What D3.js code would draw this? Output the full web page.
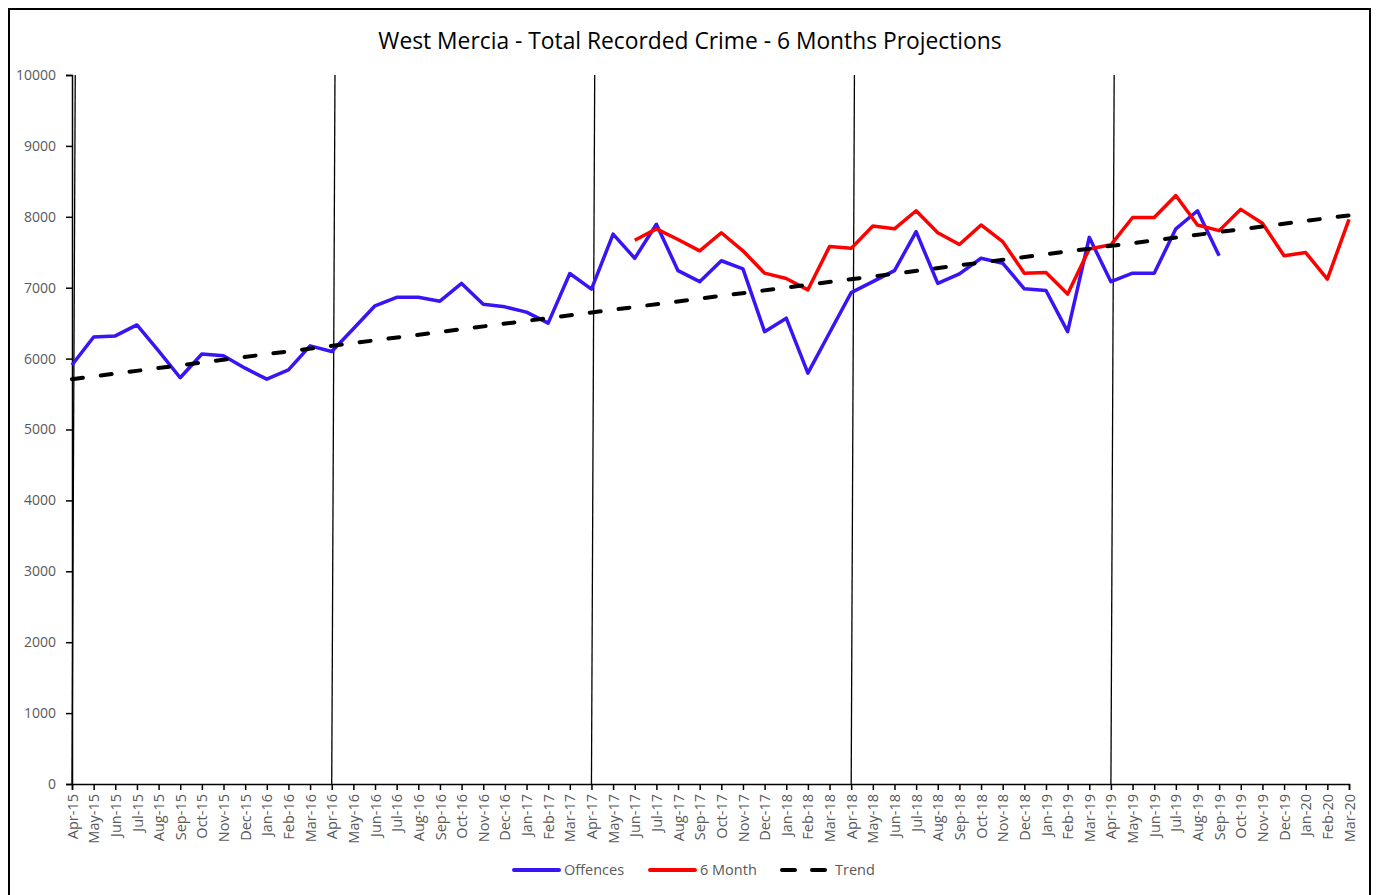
<!DOCTYPE html>
<html>
<head>
<meta charset="utf-8">
<script src="https://cdn.jsdelivr.net/npm/d3@7"></script>
<style>
  body { margin: 0; background: #fff; }
  svg text { font-family: "Open Sans", Carlito, Calibri, sans-serif; }
</style>
</head>
<body>
<div id="chart"></div>
<script>
var months = ['Apr-15','May-15','Jun-15','Jul-15','Aug-15','Sep-15','Oct-15','Nov-15','Dec-15','Jan-16','Feb-16','Mar-16',
              'Apr-16','May-16','Jun-16','Jul-16','Aug-16','Sep-16','Oct-16','Nov-16','Dec-16','Jan-17','Feb-17','Mar-17',
              'Apr-17','May-17','Jun-17','Jul-17','Aug-17','Sep-17','Oct-17','Nov-17','Dec-17','Jan-18','Feb-18','Mar-18',
              'Apr-18','May-18','Jun-18','Jul-18','Aug-18','Sep-18','Oct-18','Nov-18','Dec-18','Jan-19','Feb-19','Mar-19',
              'Apr-19','May-19','Jun-19','Jul-19','Aug-19','Sep-19','Oct-19','Nov-19','Dec-19','Jan-20','Feb-20','Mar-20'];

// Apr-15 .. Sep-19
var offences = [5910, 6305, 6320, 6475, 6110, 5730, 6065, 6040, 5865, 5710, 5840, 6180,
                6100, 6420, 6745, 6865, 6865, 6810, 7060, 6765, 6730, 6655, 6500, 7200,
                6980, 7755, 7415, 7895, 7240, 7085, 7380, 7265, 6380, 6570, 5795, 6365,
                6930, 7085, 7240, 7790, 7060, 7195, 7415, 7345, 6985, 6960, 6380, 7710,
                7085, 7205, 7205, 7830, 8085, 7450];

// 6 month projection, Jun-17 .. Mar-20
var sixMonthStart = 'Jun-17';
var sixMonth = [7670, 7830, 7680, 7520, 7775, 7520, 7205, 7130, 6970, 7580,
                7555, 7870, 7830, 8085, 7775, 7610, 7885, 7650, 7205, 7215, 6910, 7545,
                7605, 7990, 7990, 8300, 7885, 7805, 8105, 7910, 7450, 7495, 7120, 7965];

// trend line end points (Apr-15, Mar-20)
var trendValues = [5710, 8020];

// year separators
var yearMarkers = ['Apr-15', 'Apr-16', 'Apr-17', 'Apr-18', 'Apr-19'];

var yTicks = [0, 1000, 2000, 3000, 4000, 5000, 6000, 7000, 8000, 9000, 10000];

var width = 1378, height = 895;
var margin = {top: 75, right: 29, bottom: 111, left: 72};
var plotW = width - margin.left - margin.right;
var plotH = height - margin.top - margin.bottom;

var svg = d3.select('#chart').append('svg')
            .attr('width', width)
            .attr('height', height);

// outer chart border
svg.append('rect')
   .attr('x', 9).attr('y', 9)
   .attr('width', 1361).attr('height', 900)
   .attr('fill', 'none')
   .attr('stroke', '#000')
   .attr('stroke-width', 2);

svg.append('text')
   .attr('x', 690).attr('y', 49)
   .attr('text-anchor', 'middle')
   .attr('font-size', 22.8)
   .attr('fill', '#000')
   .text('West Mercia - Total Recorded Crime - 6 Months Projections');

var g = svg.append('g')
           .attr('transform', 'translate(' + margin.left + ',' + margin.top + ')');

var x = d3.scaleLinear()
          .domain([0, months.length - 1])
          .range([0, plotW]);

var y = d3.scaleLinear()
          .domain([0, 10000])
          .range([plotH, 0]);

// axes
var yAxis = d3.axisLeft(y).tickValues(yTicks).tickFormat(d3.format('d')).tickSize(6).tickPadding(10);
var yG = g.append('g').call(yAxis);
yG.selectAll('text').attr('font-size', 14).attr('fill', '#595959');

var xAxis = d3.axisBottom(x)
              .tickValues(d3.range(months.length))
              .tickFormat(function(i) { return months[i]; })
              .tickSize(6);
var xG = g.append('g')
          .attr('transform', 'translate(0,' + plotH + ')')
          .call(xAxis);
xG.selectAll('text')
  .attr('font-size', 14.5)
  .attr('fill', '#595959')
  .attr('transform', 'rotate(-90)')
  .attr('text-anchor', 'end')
  .attr('x', -10)
  .attr('y', 0)
  .attr('dy', '0.35em');

[yG, xG].forEach(function(ax) {
    ax.select('.domain').attr('stroke', '#000').attr('stroke-width', 1.5);
    ax.selectAll('.tick line').attr('stroke', '#000').attr('stroke-width', 1.5);
});

// year separator lines (slightly slanted, as in the source)
yearMarkers.forEach(function(m) {
    var i = months.indexOf(m);
    g.append('line')
     .attr('x1', x(i)).attr('y1', y(0))
     .attr('x2', x(i + 0.15)).attr('y2', y(10000))
     .attr('stroke', '#000')
     .attr('stroke-width', 1.3);
});

var line = d3.line()
             .defined(function(d) { return d.v != null; })
             .x(function(d) { return x(d.i); })
             .y(function(d) { return y(d.v); });

var offData = offences.map(function(v, i) { return {i: i, v: v}; });
var s0 = months.indexOf(sixMonthStart);
var sixData = sixMonth.map(function(v, k) { return {i: s0 + k, v: v}; });
var trendData = [{i: 0, v: trendValues[0]}, {i: months.length - 1, v: trendValues[1]}];

g.append('path').datum(offData)
 .attr('d', line)
 .attr('fill', 'none')
 .attr('stroke', '#3a14f5')
 .attr('stroke-width', 3.5)
 .attr('stroke-linejoin', 'round');

g.append('path').datum(sixData)
 .attr('d', line)
 .attr('fill', 'none')
 .attr('stroke', '#ff0000')
 .attr('stroke-width', 3.5)
 .attr('stroke-linejoin', 'round');

g.append('path').datum(trendData)
 .attr('d', line)
 .attr('fill', 'none')
 .attr('stroke', '#000')
 .attr('stroke-width', 4)
 .attr('stroke-linecap', 'round')
 .attr('stroke-dasharray', '11,18');

// legend
var legendItems = [
    {name: 'Offences', color: '#3a14f5', x: 514, dash: null},
    {name: '6 Month', color: '#ff0000', x: 650, dash: null},
    {name: 'Trend', color: '#000', x: 782, dash: '13,17'}
];
var legend = svg.append('g');
legendItems.forEach(function(it) {
    legend.append('line')
          .attr('x1', it.x).attr('x2', it.x + 45)
          .attr('y1', 870).attr('y2', 870)
          .attr('stroke', it.color)
          .attr('stroke-width', 4)
          .attr('stroke-linecap', 'round')
          .attr('stroke-dasharray', it.dash);
    legend.append('text')
          .attr('x', it.x + (it.dash ? 53 : 50)).attr('y', 875)
          .attr('font-size', 14.5)
          .attr('fill', '#595959')
          .text(it.name);
});
</script>
</body>
</html>
